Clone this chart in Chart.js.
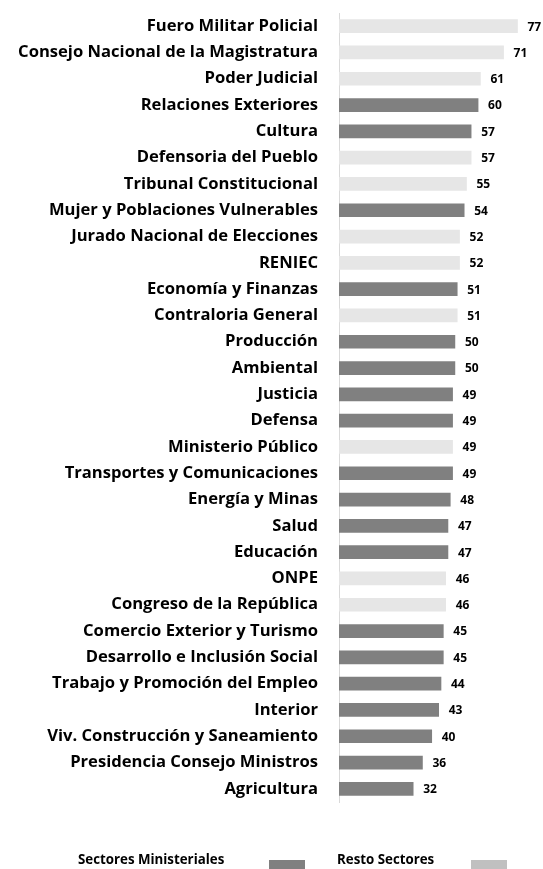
<!DOCTYPE html>
<html>
<head>
<meta charset="utf-8">
<script src="https://cdn.jsdelivr.net/npm/chart.js@4"></script>
<style>
  html, body { margin: 0; padding: 0; background: #fff; }
  #wrap { position: relative; width: 543px; height: 869px; overflow: hidden; }
  #grafico { position: absolute; left: 0; top: 0; }
  .leyenda-txt { position: absolute; font: bold 13.3px "Open Sans", sans-serif; color: #000; top: 851px; line-height: 16px; white-space: nowrap; }
  .leyenda-box { position: absolute; top: 860px; width: 36px; height: 10px; }
</style>
</head>
<body>
<div id="wrap">
  <canvas id="grafico" width="543" height="869"></canvas>
  <span class="leyenda-txt" style="left:78px">Sectores Ministeriales</span>
  <span class="leyenda-box" style="left:269px;background:#808080"></span>
  <span class="leyenda-txt" style="left:337px">Resto Sectores</span>
  <span class="leyenda-box" style="left:471px;background:#c0c0c0"></span>
</div>
<script>
// === DATOS ===
const sectores = [
  "Fuero Militar Policial", "Consejo Nacional de la Magistratura", "Poder Judicial",
  "Relaciones Exteriores", "Cultura", "Defensoria del Pueblo", "Tribunal Constitucional",
  "Mujer y Poblaciones Vulnerables", "Jurado Nacional de Elecciones", "RENIEC",
  "Economía y Finanzas", "Contraloria General", "Producción", "Ambiental", "Justicia",
  "Defensa", "Ministerio Público", "Transportes y Comunicaciones", "Energía y Minas",
  "Salud", "Educación", "ONPE", "Congreso de la República", "Comercio Exterior y Turismo",
  "Desarrollo e Inclusión Social", "Trabajo y Promoción del Empleo", "Interior",
  "Viv. Construcción y Saneamiento", "Presidencia Consejo Ministros", "Agricultura"
];
const valores = [77, 71, 61, 60, 57, 57, 55, 54, 52, 52, 51, 51, 50, 50, 49, 49, 49, 49, 48, 47, 47, 46, 46, 45, 45, 44, 43, 40, 36, 32];
// M = Sectores Ministeriales, R = Resto Sectores
const grupo = ["R", "R", "R", "M", "M", "R", "R", "M", "R", "R", "M", "R", "M", "M", "M", "M", "R", "M", "M", "M", "M", "R", "R", "M", "M", "M", "M", "M", "M", "M"];

const COLOR_MIN = "#808080";
const COLOR_RESTO = "#e6e6e6";

// === ETIQUETAS DE VALOR AL FINAL DE CADA BARRA ===
const etiquetasValor = {
  id: "etiquetasValor",
  afterDatasetsDraw(chart) {
    const ctx = chart.ctx;
    const meta = chart.getDatasetMeta(0);
    ctx.save();
    ctx.font = "bold 12px 'Open Sans', sans-serif";
    ctx.fillStyle = "#000";
    ctx.textAlign = "left";
    ctx.textBaseline = "middle";
    meta.data.forEach((bar, i) => {
      ctx.fillText(valores[i], bar.x + 10, bar.y + 1);
    });
    ctx.restore();
  }
};

new Chart(document.getElementById("grafico"), {
  type: "bar",
  data: {
    labels: sectores,
    datasets: [{
      data: valores,
      backgroundColor: grupo.map((g) => (g === "M" ? COLOR_MIN : COLOR_RESTO)),
      barThickness: 13,
    }],
  },
  options: {
    indexAxis: "y",
    responsive: false,
    animation: false,
    layout: { padding: { top: 13, bottom: 67, right: 0, left: 0 } },
    scales: {
      x: { display: false, min: 0, max: 88 },
      y: {
        afterFit: (scale) => {
          scale.width = 339;
          scale.paddingTop = 0;
          scale.paddingBottom = 0;
        },
        grid: { display: false, drawTicks: false },
        border: { display: true, color: "#d9d9d9", width: 1 },
        ticks: {
          padding: 21,
          color: "#000",
          font: { family: "'Open Sans', sans-serif", size: 16.6, weight: "bold" },
        },
      },
    },
    plugins: {
      legend: { display: false },
      tooltip: { enabled: false },
    },
  },
  plugins: [etiquetasValor],
});
</script>
</body>
</html>
